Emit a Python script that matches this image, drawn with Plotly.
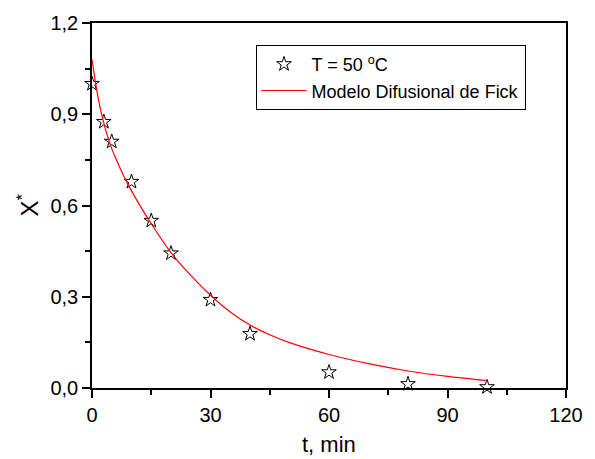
import plotly.graph_objects as go

# Experimental data (T = 50 °C)
t_exp = [0, 3, 5, 10, 15, 20, 30, 40, 60, 80, 100]
x_exp = [1.0, 0.875, 0.81, 0.678, 0.55, 0.443, 0.29, 0.178, 0.052, 0.013, 0.003]

# Fick diffusion model curve
t_model = [0, 1, 2, 3, 4, 5, 6, 8, 10, 12, 15, 20, 25, 30, 35, 40, 45, 50, 60, 70, 80, 90, 100]
x_model = [1.08, 0.995, 0.925, 0.87, 0.825, 0.787, 0.755, 0.698, 0.648, 0.603, 0.54, 0.445, 0.37,
           0.305, 0.25, 0.207, 0.175, 0.149, 0.11, 0.08, 0.056, 0.038, 0.024]

x_tickvals = [0, 30, 60, 90, 120]
x_ticktext = ["0", "30", "60", "90", "120"]
y_tickvals = [0.0, 0.3, 0.6, 0.9, 1.2]
y_ticktext = ["0,0", "0,3", "0,6", "0,9", "1,2"]

FONT = "Liberation Sans, Arial, sans-serif"

fig = go.Figure()
fig.add_trace(go.Scatter(
    x=t_exp, y=x_exp, mode="markers", name="T = 50 <sup>o</sup>C",
    marker=dict(symbol="star-open", size=11, color="black", line=dict(width=1, color="black")),
    cliponaxis=False,
))
fig.add_trace(go.Scatter(
    x=t_model, y=x_model, mode="lines", name="Modelo Difusional de Fick",
    line=dict(color="red", width=1.2, shape="spline", smoothing=0.6),
))

axis_common = dict(
    showgrid=False, zeroline=False, showline=True, linecolor="black", linewidth=1.5,
    mirror=True, ticks="outside", ticklen=8, tickwidth=1.5, tickcolor="black",
    tickfont=dict(family=FONT, size=20, color="black"),
)

fig.update_xaxes(
    range=[0, 120], tickvals=x_tickvals, ticktext=x_ticktext,
    minor=dict(ticks="outside", ticklen=5, tickwidth=1.5, tickcolor="black", dtick=15, tick0=0),
    **axis_common,
)
fig.update_yaxes(
    range=[0, 1.2], tickvals=y_tickvals, ticktext=y_ticktext,
    minor=dict(ticks="outside", ticklen=5, tickwidth=1.5, tickcolor="black", dtick=0.15, tick0=0),
    **axis_common,
)

fig.add_annotation(
    text="t, min", xref="paper", yref="paper", x=0.5, y=-0.156,
    xanchor="center", yanchor="middle", showarrow=False,
    font=dict(family=FONT, size=22, color="black"),
)
fig.add_annotation(
    text="X<sup>*</sup>", xref="paper", yref="paper", x=-0.137, y=0.5,
    xanchor="center", yanchor="middle", showarrow=False, textangle=-90,
    font=dict(family=FONT, size=24, color="black"),
)

fig.update_layout(
    width=595, height=459,
    margin=dict(l=92, r=26, t=23, b=71),
    plot_bgcolor="white", paper_bgcolor="white",
    font=dict(family=FONT, color="black"),
    legend=dict(
        x=0.345, y=0.94, xanchor="left", yanchor="top",
        bordercolor="black", borderwidth=1, bgcolor="white",
        font=dict(family=FONT, size=18, color="black"),
        tracegroupgap=0, itemwidth=45,
    ),
    showlegend=True,
)

fig.write_html("out.html")
